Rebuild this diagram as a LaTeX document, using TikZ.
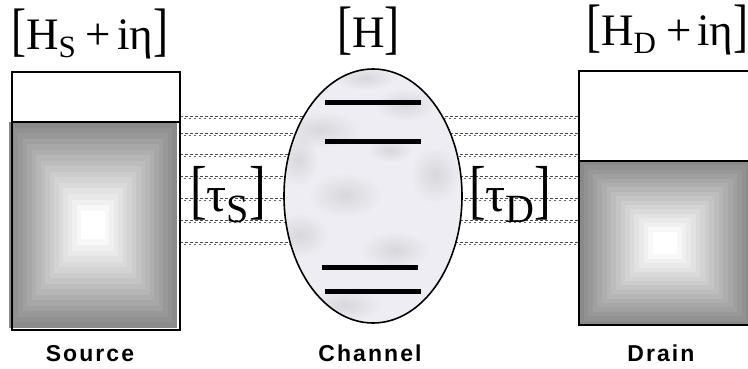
\documentclass[tikz,border=0pt]{standalone}
\usepackage{fontspec}
\usepackage{graphicx}
\setmainfont{Liberation Serif}
\newfontfamily\labfont[LetterSpace=9]{Liberation Sans Bold}
\usetikzlibrary{fadings}
\newcommand\lbrk{\scalebox{1}[1.3]{[}}
\newcommand\rbrk{\scalebox{1}[1.3]{]}}
\definecolor{marble}{RGB}{238,237,243}
\tikzfading[name=softfade, inner color=transparent!0, outer color=transparent!100]
\tikzset{
  bandA/.style={draw=black!70, line width=0.6pt, dash pattern=on 2.5pt off 2.5pt},
  bandB/.style={draw=black!60, line width=0.6pt, dash pattern=on 1.5pt off 3.5pt, dash phase=1pt},
  boxline/.style={draw=black, line width=2pt},
  level/.style={draw=black, line width=5pt},
  blotch/.style={fill=black!60, fill opacity=0.16, path fading=softfade},
  biglab/.style={anchor=base west, inner sep=0pt, font=\fontsize{45}{45}\selectfont},
  taulab/.style={anchor=base west, inner sep=0pt, font=\fontsize{50}{50}\selectfont},
  botlab/.style={anchor=base, inner sep=0pt, font=\labfont\fontsize{23}{23}\selectfont}
}
\begin{document}
\begin{tikzpicture}[x=1pt,y=-1pt]
\useasboundingbox (0,0) rectangle (748,368);
\clip (0,0) rectangle (748,368);
\fill[white] (0,0) rectangle (748,368);

% tunnelling bands
\foreach \y in {116,133,154,176,198,220,242}{
  \draw[bandA] (180,\y) -- (579,\y);
  \draw[bandB] (180,{\y+2.5}) -- (579,{\y+2.5});
}

% source contact
\fill[white] (12,72) rectangle (180,122);
\foreach \i in {0,...,16}{
  \pgfmathsetmacro\f{1-0.86*\i/16}
  \pgfmathsetmacro\p{46*(1-\i/16)}
  \fill[black!\p] ({93-84*\f},{225-103*\f}) rectangle ({93+84*\f},{225+103*\f});
}
\draw[boxline] (12,72) rectangle (180,330);
\draw[boxline] (12,122) -- (180,122);

% drain contact
\fill[white] (579,71) rectangle (752,161);
\foreach \i in {0,...,16}{
  \pgfmathsetmacro\f{1-0.86*\i/16}
  \pgfmathsetmacro\p{46*(1-\i/16)}
  \fill[black!\p] ({665-86*\f},{243-82*\f}) rectangle ({665+86*\f},{243+82*\f});
}
\draw[boxline] (579,71) rectangle (756,325);
\draw[boxline] (579,161) -- (756,161);

% channel
\fill[marble] (373,196) ellipse [x radius=89pt, y radius=127pt];
\begin{scope}
  \clip (373,196) ellipse [x radius=89pt, y radius=127pt];
  \fill[blotch] (320,130) ellipse [x radius=40pt, y radius=18pt];
  \fill[blotch] (405,105) ellipse [x radius=30pt, y radius=16pt];
  \fill[blotch] (345,195) ellipse [x radius=36pt, y radius=22pt];
  \fill[blotch] (300,235) ellipse [x radius=28pt, y radius=22pt];
  \fill[blotch] (395,250) ellipse [x radius=34pt, y radius=18pt];
  \fill[blotch] (435,175) ellipse [x radius=24pt, y radius=28pt];
  \fill[blotch] (345,305) ellipse [x radius=36pt, y radius=16pt];
  \fill[blotch] (298,160) ellipse [x radius=20pt, y radius=26pt];
  \fill[blotch] (365,78) ellipse [x radius=30pt, y radius=12pt];
  \fill[blotch] (390,150) ellipse [x radius=22pt, y radius=12pt];
\end{scope}
\draw[line width=1.6pt] (373,196) ellipse [x radius=89pt, y radius=127pt];
\draw[level] (325,102) -- (421,102);
\draw[level] (325,141) -- (421,141);
\draw[level] (322,267) -- (418,267);
\draw[level] (325,291) -- (421,291);

% labels
\node[biglab] (hs) at (11,49) {\lbrk H\raisebox{-8pt}{\fontsize{31}{31}\selectfont S}\hspace{10pt}+\hspace{6pt}iη\rbrk};
\node[biglab] (hc) at (337,47) {\lbrk H\rbrk};
\node[biglab] (hd) at (586,45) {\lbrk H\raisebox{-8pt}{\fontsize{31}{31}\selectfont D}\hspace{10pt}+\hspace{6pt}iη\rbrk};
\node[taulab] (ts) at (190,211) {\lbrk τ\raisebox{-11pt}{\fontsize{40}{40}\selectfont S}\rbrk};
\node[taulab] (td) at (469,211) {\lbrk τ\raisebox{-11pt}{\fontsize{40}{40}\selectfont D}\rbrk};
\node[botlab] (src) at (90,361) {Source};
\node[botlab] (chn) at (370,361) {Channel};
\node[botlab] (drn) at (661,361) {Drain};
\end{tikzpicture}
\end{document}
